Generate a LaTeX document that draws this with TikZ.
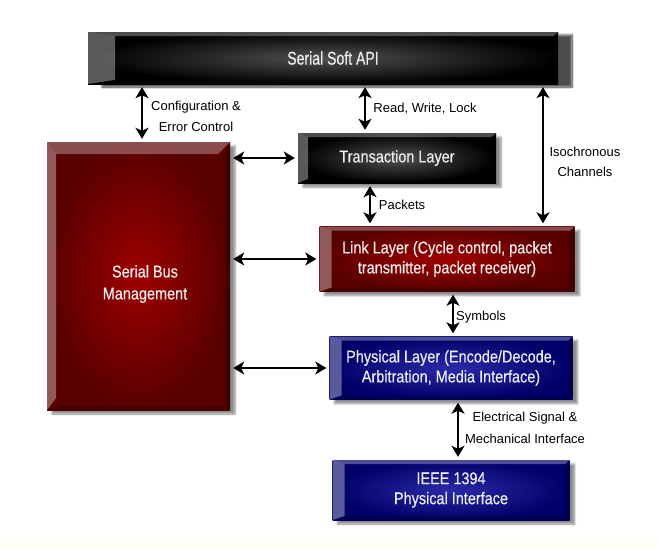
\documentclass[tikz,border=0pt]{standalone}
\usepackage{fontspec}
\setmainfont{Liberation Sans}
\newfontfamily\boxfont{Liberation Sans}[FakeStretch=0.85,FakeBold=0.35]
\newfontfamily\apifont{Liberation Sans}[FakeStretch=0.76,FakeBold=0.35]
\usetikzlibrary{arrows.meta,shadows.blur,calc}
\definecolor{redc}{HTML}{A00000}
\definecolor{rede}{HTML}{580000}
\definecolor{bluec}{HTML}{2A2AA8}
\definecolor{bluee}{HTML}{000068}
\definecolor{grayc}{HTML}{505050}
\tikzset{
  bevel/.style 2 args={path picture={
    \fill[white,opacity=.35] (path picture bounding box.north west)
      -- ([xshift=#1,yshift=-#2]path picture bounding box.north west)
      -- ([xshift=#1,yshift=#2]path picture bounding box.south west)
      -- (path picture bounding box.south west) -- cycle;
    \fill[white,opacity=.3] (path picture bounding box.north west)
      -- (path picture bounding box.north east)
      -- ([xshift=-#2,yshift=-#2]path picture bounding box.north east)
      -- ([xshift=#1,yshift=-#2]path picture bounding box.north west) -- cycle;
    \fill[black,opacity=.25] (path picture bounding box.north east)
      -- (path picture bounding box.south east)
      -- ([xshift=-5pt,yshift=4pt]path picture bounding box.south east)
      -- ([xshift=-5pt,yshift=-#2]path picture bounding box.north east) -- cycle;
    \fill[black,opacity=.2] (path picture bounding box.south west)
      -- (path picture bounding box.south east)
      -- ([xshift=-5pt,yshift=4pt]path picture bounding box.south east)
      -- ([xshift=#1,yshift=4pt]path picture bounding box.south west) -- cycle;
  }},
  box/.style={rectangle, inner sep=2pt, align=center, text=white!93!black,
    font=\boxfont\fontsize{17}{20}\selectfont,
    blur shadow={shadow xshift=5pt, shadow yshift=-4pt, shadow blur steps=6, shadow opacity=45}},
  blackbox/.style={box, inner color=grayc, outer color=black, bevel={10pt}{4pt}},
  redbox/.style={box, inner color=redc, outer color=rede, bevel={12pt}{4pt}},
  bluebox/.style={box, inner color=bluec, outer color=bluee, bevel={12pt}{4pt}},
  boxtext/.style={align=center, text=white!93!black, font=\boxfont\fontsize{17}{22}\selectfont, inner sep=0pt},
  lbl/.style={font=\fontsize{13}{21}\selectfont, align=center, inner sep=0pt},
  biarrow/.style={{Stealth[length=11pt,width=13pt,inset=3pt]}-{Stealth[length=11pt,width=13pt,inset=3pt]},
    line width=2.8pt, shorten <=3pt, shorten >=3pt},
}
\begin{document}
\begin{tikzpicture}[x=1pt,y=-1pt]
\useasboundingbox (0,0) rectangle (658,549);
\shade[top color=white, bottom color=yellow!4, draw=none] (0,532) rectangle (658,549);
% boxes
\node[blackbox, bevel={27pt}{4pt}, minimum width=470pt, minimum height=52pt,
  font=\apifont\fontsize{18.5}{20}\selectfont,
  blur shadow={shadow xshift=14pt, shadow yshift=-3pt, shadow blur steps=10, shadow opacity=45}]
  (api) at (323,58) {\hspace*{20pt}Serial Soft API};
\node[redbox, bevel={9pt}{12pt}, minimum width=183pt, minimum height=268pt,
  inner color=red!62!black, outer color=rede] (sbm) at (138.5,276) {};
\node[boxtext] (sbmtext) at (145,284) {Serial Bus\\Management};
\node[blackbox, minimum width=198pt, minimum height=50pt] (trans) at (397,158) {Transaction Layer};
\node[redbox, minimum width=255pt, minimum height=65pt] (link) at (447,259)
  {Link Layer (Cycle control, packet\\transmitter, packet receiver)};
\node[bluebox, minimum width=243pt, minimum height=63pt] (phys) at (451,368)
  {Physical Layer (Encode/Decode,\\Arbitration, Media Interface)};
\node[bluebox, minimum width=237pt, minimum height=60pt] (ieee) at (451,490)
  {IEEE 1394\\Physical Interface};
% helper x positions
\coordinate (xc) at (142,0);
\coordinate (xr) at (365,0);
\coordinate (xi) at (543,0);
\coordinate (xp) at (370,0);
\coordinate (xs) at (453,0);
\coordinate (xe) at (458,0);
% connectors
\draw[biarrow] (api.south -| xc) -- (sbm.north -| xc);
\draw[biarrow] (api.south -| xr) -- (trans.north -| xr);
\draw[biarrow] (api.south -| xi) -- (link.north -| xi);
\draw[biarrow] (trans.west -| sbm.east) -- (trans.west);
\draw[biarrow] (link.west -| sbm.east) -- (link.west);
\draw[biarrow] (phys.west -| sbm.east) -- (phys.west);
\draw[biarrow] (trans.south -| xp) -- (link.north -| xp);
\draw[biarrow] (link.south -| xs) -- (phys.north -| xs);
\draw[biarrow] (phys.south -| xe) -- (ieee.north -| xe);
% labels
\node[lbl] (lconf) at (196,116) {Configuration \&\\Error Control};
\node[lbl] (lrwl) at (425,109) {Read, Write, Lock};
\node[lbl, font=\fontsize{13}{20}\selectfont] (liso) at (585,162) {Isochronous\\Channels};
\node[lbl] (lpack) at (402,205) {Packets};
\node[lbl] (lsym) at (481,317) {Symbols};
\node[lbl, font=\fontsize{13}{22}\selectfont] (lelec) at (525,428) {Electrical Signal \&\\Mechanical Interface};
\end{tikzpicture}
\end{document}
